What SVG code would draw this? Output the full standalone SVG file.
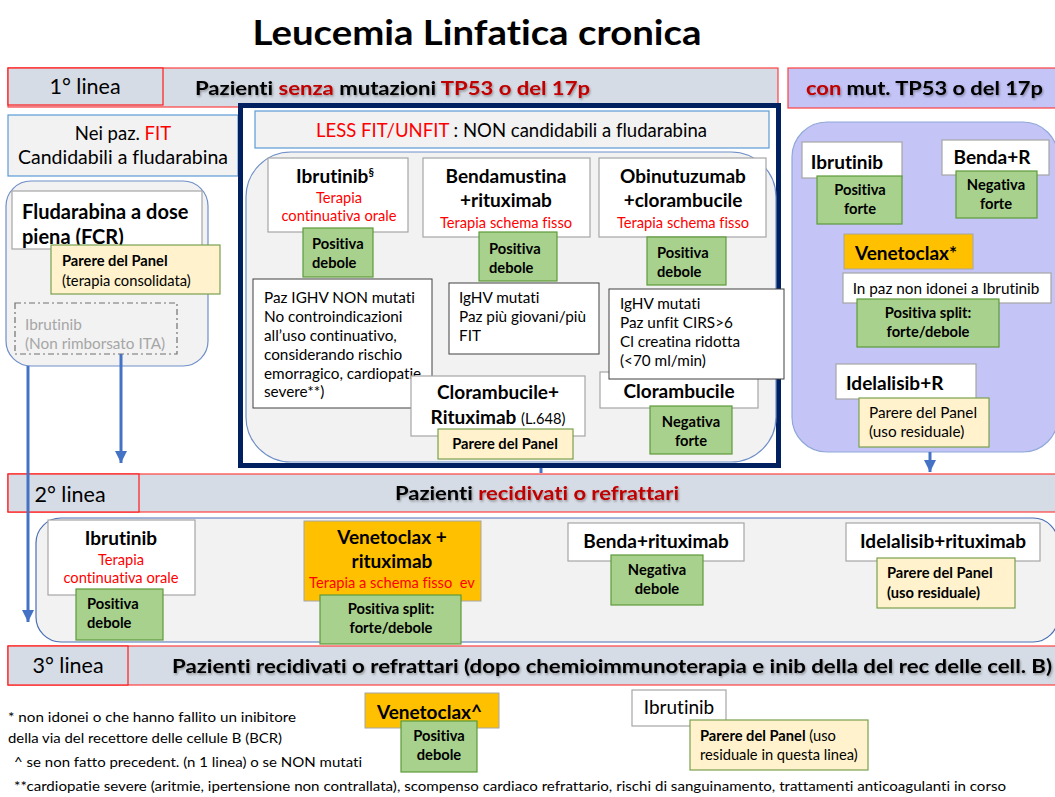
<svg xmlns="http://www.w3.org/2000/svg" width="1055" height="797" viewBox="0 0 1055 797">
<style>
text{font-family:Lato,"Liberation Sans",sans-serif;fill:#000;font-variant-ligatures:none}
.b{font-weight:bold}
.r{fill:#ff0000}
.dr{fill:#c00000}
.c{text-anchor:middle}
.band{fill:#d6dce5;stroke:#ff4040;stroke-width:1.2}
.lab{fill:#d6dce5;stroke:#ff1a1a;stroke-width:1.2}
.wb{fill:#fff;stroke:#a6a6a6;stroke-width:1.2}
.nb{fill:#fff;stroke:#404040;stroke-width:1}
.gr{fill:#a9d18e;stroke:#5e9a3a;stroke-width:1.2}
.ye{fill:#fff2cc;stroke:#7aa04e;stroke-width:1.2}
.or{fill:#ffc000;stroke:#a6a6a6;stroke-width:1}
.gbox{fill:#f2f2f2;stroke:#5b9bd5;stroke-width:1.2}
.cont{fill:#f2f2f2;stroke:#6f8fc8;stroke-width:1.2}
.t20{font-size:21.5px}
.t19{font-size:19px}
.t17{font-size:18.5px}
.t13{font-size:14.7px}
.t14{font-size:15.3px}
.conn{stroke:#4472c4;stroke-width:3;fill:none}
</style>
<defs>
<filter id="sh" x="-5%" y="-30%" width="110%" height="160%">
<feDropShadow dx="1" dy="1.5" stdDeviation="0.8" flood-color="#000" flood-opacity="0.35"/>
</filter>
<marker id="ah" viewBox="0 0 10 10" refX="10" refY="5" markerUnits="userSpaceOnUse" markerWidth="12" markerHeight="12" orient="auto">
<path d="M0,0 L10,5 L0,10 z" fill="#4472c4"/>
</marker>
</defs>
<rect width="1055" height="797" fill="#fff"/>

<g id="title"><text x="477" y="45" class="b c" font-size="34" textLength="449" lengthAdjust="spacingAndGlyphs">Leucemia Linfatica cronica</text></g>

<!-- Row 1 header -->
<g id="row1-header">
<rect class="band" x="8" y="68" width="770" height="39"/>
<rect class="lab" x="8" y="68" width="155" height="37"/>
<text x="85" y="94" class="c t20">1° linea</text>
<text x="195" y="95" class="b" font-size="19" filter="url(#sh)" textLength="395" lengthAdjust="spacingAndGlyphs">Pazienti <tspan class="dr">senza</tspan>  mutazioni <tspan class="dr">TP53 o del 17p</tspan></text>
</g>
<g id="row1-right-header">
<rect x="788" y="68" width="270" height="40" fill="#c4c4f7" stroke="#ff4040" stroke-width="1.2"/>
<text x="806" y="95" class="b" font-size="19" filter="url(#sh)" textLength="237" lengthAdjust="spacingAndGlyphs"><tspan class="dr">con</tspan> mut. TP53 o del 17p</text>
</g>

<!-- Left FIT column -->
<g id="fit-header">
<rect class="gbox" x="8" y="115" width="230" height="61"/>
<text x="123" y="140" class="c t17">Nei paz. <tspan class="r">FIT</tspan></text>
<text x="123" y="164" class="c t17" textLength="210" lengthAdjust="spacingAndGlyphs">Candidabili a fludarabina</text>
</g>
<g id="fit-container"><rect class="cont" x="6" y="181" width="202" height="185" rx="25"/></g>
<g id="fcr">
<rect class="wb" x="12" y="191" width="190" height="58"/>
<text x="22" y="219" class="b" font-size="20">Fludarabina a dose</text>
<text x="22" y="244" class="b" font-size="20">piena (FCR)</text>
</g>
<g id="fcr-panel">
<rect class="ye" x="51" y="245" width="169" height="49"/>
<text x="62" y="266" class="b t13">Parere del Panel</text>
<text x="62" y="286" class="t13">(terapia consolidata)</text>
</g>
<g id="ibrutinib-nr">
<rect x="15" y="303" width="162" height="51" fill="none" stroke="#707070" stroke-width="1.2" stroke-dasharray="6 3 2 3"/>
<text x="25" y="330" class="t14" style="fill:#a6a6a6">Ibrutinib</text>
<text x="25" y="349" class="t14" style="fill:#a6a6a6">(Non rimborsato ITA)</text>
</g>

<!-- Navy LESS FIT block -->
<g id="unfit-frame"><rect x="240.5" y="105.5" width="538" height="360" fill="#fff" stroke="#002060" stroke-width="5"/></g>
<g id="unfit-header">
<rect class="gbox" x="255" y="111" width="514" height="37"/>
<text x="316" y="137" class="t17" textLength="391" lengthAdjust="spacingAndGlyphs"><tspan class="r">LESS FIT/UNFIT</tspan> : NON candidabili a fludarabina</text>
</g>
<g id="unfit-container"><rect class="cont" x="246" y="152" width="530" height="310" rx="45" stroke="#8fa8d8"/></g>

<g id="ibrutinib1">
<rect class="wb" x="268" y="158" width="140" height="74"/>
<text x="335" y="183" class="b c t19">Ibrutinib<tspan font-size="11" dy="-7">§</tspan></text>
<text x="339" y="203" class="r c t13">Terapia</text>
<text x="339" y="221" class="r c t13">continuativa orale</text>
</g>
<g id="ibrutinib1-grade">
<rect class="gr" x="303" y="228" width="70" height="49"/>
<text x="312" y="249" class="b t13">Positiva</text>
<text x="312" y="268" class="b t13">debole</text>
</g>
<g id="bendamustina">
<rect class="wb" x="423" y="158" width="167" height="79"/>
<text x="506" y="183" class="b c t19">Bendamustina</text>
<text x="506" y="207" class="b c t19">+rituximab</text>
<text x="506" y="228" class="r c t13">Terapia schema fisso</text>
</g>
<g id="bendamustina-grade">
<rect class="gr" x="479" y="232" width="78" height="49"/>
<text x="489" y="254" class="b t13">Positiva</text>
<text x="489" y="273" class="b t13">debole</text>
</g>
<g id="obinutuzumab">
<rect class="wb" x="599" y="158" width="167" height="79"/>
<text x="683" y="183" class="b c t19">Obinutuzumab</text>
<text x="683" y="207" class="b c t19">+clorambucile</text>
<text x="683" y="228" class="r c t13">Terapia schema fisso</text>
</g>
<g id="obinutuzumab-grade">
<rect class="gr" x="647" y="237" width="79" height="48"/>
<text x="657" y="258" class="b t13">Positiva</text>
<text x="657" y="277" class="b t13">debole</text>
</g>

<g id="note-ighv-non">
<rect class="nb" x="253" y="279" width="179" height="129"/>
<text x="264" y="303" class="t14">Paz IGHV NON mutati</text>
<text x="264" y="322" class="t14">No controindicazioni</text>
<text x="264" y="341" class="t14">all’uso continuativo,</text>
<text x="264" y="360" class="t14">considerando rischio</text>
<text x="264" y="379" class="t14">emorragico, cardiopatie</text>
<text x="264" y="397" class="t14">severe**)</text>
</g>
<g id="note-ighv-mut">
<rect class="nb" x="449" y="283" width="150" height="71"/>
<text x="459" y="303" class="t14">IgHV mutati</text>
<text x="459" y="322" class="t14">Paz più giovani/più</text>
<text x="459" y="341" class="t14">FIT</text>
</g>
<g id="clorambucile-r">
<rect class="wb" x="411" y="376" width="174" height="60"/>
<text x="498" y="399" class="b c t19">Clorambucile+</text>
<text x="498" y="424" class="b c t19">Rituximab <tspan class="t13" font-weight="normal">(L.648)</tspan></text>
</g>
<g id="clorambucile-r-grade">
<rect class="ye" x="438" y="429" width="135" height="30"/>
<text x="505" y="449" class="b c t13">Parere del Panel</text>
</g>
<g id="clorambucile">
<rect class="wb" x="600" y="372" width="158" height="36"/>
<text x="679" y="398" class="b c t19">Clorambucile</text>
</g>
<g id="note-unfit">
<rect class="nb" x="609" y="289" width="175" height="90"/>
<text x="620" y="309" class="t14">IgHV mutati</text>
<text x="620" y="328" class="t14">Paz unfit CIRS&gt;6</text>
<text x="620" y="347" class="t14">Cl creatina  ridotta</text>
<text x="620" y="366" class="t14">(&lt;70 ml/min)</text>
</g>
<g id="clorambucile-grade">
<rect class="gr" x="650" y="406" width="82" height="48"/>
<text x="691" y="427" class="b c t13">Negativa</text>
<text x="691" y="446" class="b c t13">forte</text>
</g>

<!-- Right TP53 column -->
<g id="tp53-container"><rect x="792" y="122" width="266" height="330" rx="35" fill="#c4c4f7" stroke="#8fa8d8" stroke-width="1.2"/></g>
<g id="tp53-ibrutinib">
<rect class="wb" x="802" y="142" width="100" height="36"/>
<text x="847" y="169" class="b c t19">Ibrutinib</text>
</g>
<g id="tp53-ibrutinib-grade">
<rect class="gr" x="817" y="176" width="85" height="48"/>
<text x="860" y="195" class="b c t13">Positiva</text>
<text x="860" y="214" class="b c t13">forte</text>
</g>
<g id="tp53-benda">
<rect class="wb" x="942" y="140" width="107" height="35"/>
<text x="992" y="164" class="b c t19">Benda+R</text>
</g>
<g id="tp53-benda-grade">
<rect class="gr" x="956" y="171" width="81" height="47"/>
<text x="996" y="190" class="b c t13">Negativa</text>
<text x="996" y="209" class="b c t13">forte</text>
</g>
<g id="tp53-venetoclax">
<rect class="or" x="844" y="234" width="129" height="35"/>
<text x="855" y="260" class="b t19">Venetoclax*</text>
</g>
<g id="tp53-venetoclax-note">
<rect class="wb" x="843" y="273" width="208" height="30"/>
<text x="946" y="294" class="c t14">In paz non idonei a Ibrutinib</text>
</g>
<g id="tp53-venetoclax-grade">
<rect class="gr" x="857" y="299" width="142" height="48"/>
<text x="928" y="318" class="b c t13">Positiva split:</text>
<text x="928" y="337" class="b c t13">forte/debole</text>
</g>
<g id="tp53-idelalisib">
<rect class="wb" x="836" y="364" width="140" height="35"/>
<text x="846" y="390" class="b t19">Idelalisib+R</text>
</g>
<g id="tp53-idelalisib-grade">
<rect class="ye" x="859" y="398" width="130" height="49"/>
<text x="869" y="418" class="t14">Parere del Panel</text>
<text x="869" y="437" class="t14">(uso residuale)</text>
</g>

<!-- Row 2 -->
<g id="row2-header">
<rect class="band" x="8" y="474" width="1050" height="38"/>
<rect class="lab" x="8" y="474" width="131" height="38"/>
<text x="70" y="502" class="c t20">2° linea</text>
<text x="395" y="500" class="b" font-size="19" filter="url(#sh)" textLength="284" lengthAdjust="spacingAndGlyphs">Pazienti <tspan class="dr">recidivati o refrattari</tspan></text>
</g>
<g id="row2-container"><rect x="36" y="518" width="1022" height="124" rx="25" fill="#f2f2f2" stroke="#4a6fb5" stroke-width="1.2"/></g>
<g id="r2-ibrutinib">
<rect class="wb" x="48" y="520" width="147" height="75"/>
<text x="121" y="545" class="b c t19">Ibrutinib</text>
<text x="121" y="565" class="r c t13">Terapia</text>
<text x="121" y="583" class="r c t13">continuativa orale</text>
</g>
<g id="r2-ibrutinib-grade">
<rect class="gr" x="76" y="589" width="87" height="51"/>
<text x="87" y="609" class="b t13">Positiva</text>
<text x="87" y="628" class="b t13">debole</text>
</g>
<g id="r2-venetoclax">
<rect class="or" x="304" y="521" width="177" height="80"/>
<text x="392" y="544" class="b c t19">Venetoclax +</text>
<text x="392" y="568" class="b c t19">rituximab</text>
<text x="392" y="588" class="r c t13">Terapia a schema fisso&#160; ev</text>
</g>
<g id="r2-venetoclax-grade">
<rect class="gr" x="320" y="595" width="141" height="49"/>
<text x="391" y="614" class="b c t13">Positiva split:</text>
<text x="391" y="633" class="b c t13">forte/debole</text>
</g>
<g id="r2-benda">
<rect class="wb" x="568" y="523" width="176" height="38"/>
<text x="656" y="548" class="b c t19">Benda+rituximab</text>
</g>
<g id="r2-benda-grade">
<rect class="gr" x="611" y="555" width="92" height="50"/>
<text x="657" y="575" class="b c t13">Negativa</text>
<text x="657" y="594" class="b c t13">debole</text>
</g>
<g id="r2-idelalisib">
<rect class="wb" x="846" y="523" width="194" height="38"/>
<text x="943" y="548" class="b c t19">Idelalisib+rituximab</text>
</g>
<g id="r2-idelalisib-grade">
<rect class="ye" x="877" y="558" width="138" height="50"/>
<text x="887" y="578" class="b t13">Parere del Panel</text>
<text x="887" y="598" class="b t13">(uso residuale)</text>
</g>

<!-- Row 3 -->
<g id="row3-header">
<rect class="band" x="8" y="646" width="1050" height="39"/>
<rect class="lab" x="8" y="646" width="120" height="39"/>
<text x="68" y="673" class="c t20">3° linea</text>
<text x="172" y="673" class="b" font-size="19" filter="url(#sh)" textLength="880" lengthAdjust="spacingAndGlyphs">Pazienti recidivati o refrattari (dopo chemioimmunoterapia e inib della del rec delle cell. B)</text>
</g>
<g id="r3-venetoclax">
<rect class="or" x="365" y="693" width="134" height="35"/>
<text x="377" y="719" class="b t19">Venetoclax^</text>
</g>
<g id="r3-venetoclax-grade">
<rect class="gr" x="401" y="721" width="76" height="51"/>
<text x="439" y="741" class="b c t13">Positiva</text>
<text x="439" y="760" class="b c t13">debole</text>
</g>
<g id="r3-ibrutinib">
<rect class="wb" x="632" y="690" width="94" height="36"/>
<text x="679" y="714" class="c t19">Ibrutinib</text>
</g>
<g id="r3-ibrutinib-grade">
<rect class="ye" x="690" y="720" width="178" height="50"/>
<text x="700" y="741" class="t13"><tspan class="b">Parere del Panel</tspan> (uso</text>
<text x="700" y="760" class="t13">residuale in questa linea)</text>
</g>

<g id="footnotes">
<text x="8" y="722" font-size="14" textLength="288" lengthAdjust="spacingAndGlyphs">*  non idonei o che hanno fallito un inibitore</text>
<text x="8" y="743" font-size="14" textLength="274" lengthAdjust="spacingAndGlyphs">della via del recettore delle cellule B (BCR)</text>
<text x="14" y="767" font-size="14" textLength="348" lengthAdjust="spacingAndGlyphs">^ se non fatto precedent. (n 1 linea) o se NON mutati</text>
<text x="14" y="791" font-size="14" textLength="992" lengthAdjust="spacingAndGlyphs">**cardiopatie severe (aritmie, ipertensione non contrallata), scompenso cardiaco refrattario, rischi di sanguinamento, trattamenti anticoagulanti in corso</text>
</g>

<g id="connectors">
<line class="conn" x1="28" y1="366" x2="28" y2="622" marker-end="url(#ah)"/>
<line class="conn" x1="121" y1="354" x2="121" y2="463" marker-end="url(#ah)"/>
<line class="conn" x1="930" y1="452" x2="930" y2="472" marker-end="url(#ah)"/>
<line class="conn" x1="541" y1="468" x2="541" y2="473" stroke-width="2"/>
</g>
</svg>
